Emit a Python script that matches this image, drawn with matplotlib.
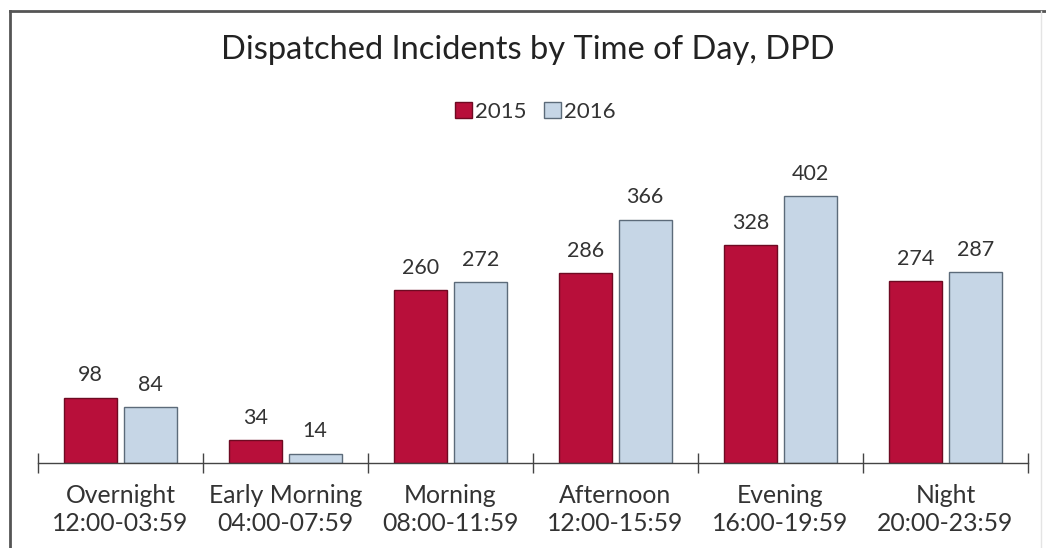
import matplotlib
matplotlib.use("Agg")
import matplotlib.pyplot as plt
from matplotlib.lines import Line2D
from matplotlib.patches import Patch
import numpy as np

categories = ["Overnight\n12:00-03:59", "Early Morning\n04:00-07:59", "Morning\n08:00-11:59",
              "Afternoon\n12:00-15:59", "Evening\n16:00-19:59", "Night\n20:00-23:59"]
values_2015 = [98, 34, 260, 286, 328, 274]
values_2016 = [84, 14, 272, 366, 402, 287]
series_names = ["2015", "2016"]

plt.rcParams['font.family'] = ['Lato', 'DejaVu Sans']

fig = plt.figure(figsize=(10.46, 5.48), dpi=100)
ax = fig.add_axes([38/1046, 1-463/548, 990/1046, (463-150)/548])

x = np.arange(len(categories))
w = 0.32
off = 0.18
c15, e15 = "#B80F3A", "#6E0A22"
c16, e16 = "#C6D6E6", "#5C6B7A"
b1 = ax.bar(x - off, values_2015, w, color=c15, edgecolor=e15, linewidth=1.0)
b2 = ax.bar(x + off, values_2016, w, color=c16, edgecolor=e16, linewidth=1.0)

for bars, vals in ((b1, values_2015), (b2, values_2016)):
    for r, v in zip(bars, vals):
        ax.annotate(str(v), (r.get_x() + r.get_width()/2, v), xytext=(0, 9),
                    textcoords="offset points", ha="center", va="bottom",
                    fontsize=15.5, color="#333333")

ax.set_xlim(-0.5, len(categories) - 0.5)
ax.set_ylim(0, 313/0.664)
for s in ["top", "right", "left"]:
    ax.spines[s].set_visible(False)
ax.spines["bottom"].set_color("#444444")
ax.spines["bottom"].set_linewidth(1.0)
ax.set_yticks([])
ax.set_xticks(np.arange(-0.5, len(categories)), minor=False)
ax.set_xticklabels([])
ax.tick_params(axis="x", direction="inout", length=14, width=1.0, color="#444444")
for xi, lab in zip(x, categories):
    ax.text(xi, -0.066, lab, transform=ax.get_xaxis_transform(), ha="center", va="top",
            fontsize=17.8, color="#333333", linespacing=1.3)

fig.text(0.505, 1-50/548, "Dispatched Incidents by Time of Day, DPD", ha="center", va="center",
         fontsize=23.5, color="#222222")

handles = [Patch(facecolor=c15, edgecolor=e15, label="2015"),
           Patch(facecolor=c16, edgecolor=e16, label="2016")]
fig.legend(handles=handles, labels=series_names, loc="center", bbox_to_anchor=(0.512, 1-112/548),
           ncol=2, frameon=False, fontsize=16, handlelength=0.75, handleheight=0.75,
           handletextpad=0.15, columnspacing=0.8, labelcolor="#333333")

# frame
fig.add_artist(Line2D([9.5/1046, 9.5/1046], [0, 1-10.5/548], color="#555555", lw=2))
fig.add_artist(Line2D([9.5/1046, 1], [1-10.5/548, 1-10.5/548], color="#555555", lw=2))
fig.add_artist(Line2D([1041/1046, 1041/1046], [0, 1-10.5/548], color="#E4E4E4", lw=1))

fig.savefig("out.png", dpi=100, facecolor="white")
